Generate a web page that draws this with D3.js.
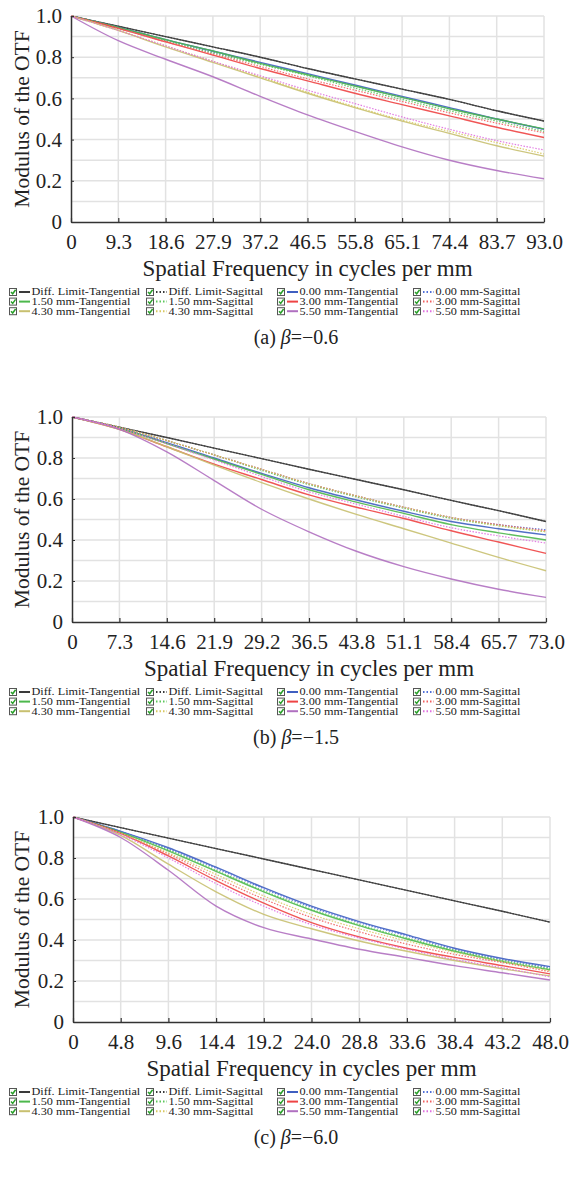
<!DOCTYPE html>
<html><head><meta charset="utf-8">
<script src="https://cdn.jsdelivr.net/npm/d3@7"></script>
<style>
html,body{margin:0;padding:0;background:#fff;}
svg{display:block;font-family:"Liberation Serif","Times New Roman",serif;}
</style></head>
<body><svg id="c" width="569" height="1180"></svg>
<script>
// ---- tick labels ----
const xTicksA = [0, 9.3, 18.6, 27.9, 37.2, 46.5, 55.8, 65.1, 74.4, 83.7, 93.0];
const xTicksB = [0, 7.3, 14.6, 21.9, 29.2, 36.5, 43.8, 51.1, 58.4, 65.7, 73.0];
const xTicksC = [0, 4.8, 9.6, 14.4, 19.2, 24.0, 28.8, 33.6, 38.4, 43.2, 48.0];
const yTicks = [0, 0.2, 0.4, 0.6, 0.8, 1.0];
const captions = ["(a) ", "(b) ", "(c) "];
const betas = ["=\u22120.6", "=\u22121.5", "=\u22126.0"];

// ---- series names ----
const seriesNames = ["Diff. Limit-Tangential","Diff. Limit-Sagittal","0.00 mm-Tangential","0.00 mm-Sagittal",
  "1.50 mm-Tangential","1.50 mm-Sagittal","3.00 mm-Tangential","3.00 mm-Sagittal",
  "4.30 mm-Tangential","4.30 mm-Sagittal","5.50 mm-Tangential","5.50 mm-Sagittal"];

// ---- (a) beta = -0.6, values at each x tick ----
const a_diffT = [1, 0.95, 0.90, 0.85, 0.80, 0.745, 0.695, 0.645, 0.595, 0.54, 0.49];
const a_diffS = [1, 0.95, 0.90, 0.85, 0.80, 0.745, 0.695, 0.645, 0.595, 0.54, 0.49];
const a_00T = [1, 0.945, 0.885, 0.83, 0.775, 0.72, 0.665, 0.61, 0.555, 0.50, 0.45];
const a_00S = [1, 0.945, 0.885, 0.825, 0.77, 0.715, 0.66, 0.605, 0.55, 0.50, 0.45];
const a_15T = [1, 0.945, 0.885, 0.83, 0.77, 0.715, 0.66, 0.605, 0.55, 0.50, 0.452];
const a_15S = [1, 0.94, 0.88, 0.82, 0.765, 0.71, 0.65, 0.595, 0.54, 0.49, 0.44];
const a_30T = [1, 0.94, 0.875, 0.81, 0.745, 0.685, 0.625, 0.57, 0.515, 0.46, 0.41];
const a_30S = [1, 0.94, 0.875, 0.815, 0.755, 0.695, 0.64, 0.585, 0.53, 0.48, 0.433];
const a_43T = [1, 0.93, 0.85, 0.775, 0.70, 0.625, 0.555, 0.49, 0.43, 0.37, 0.32];
const a_43S = [1, 0.93, 0.855, 0.78, 0.705, 0.63, 0.56, 0.495, 0.44, 0.385, 0.33];
const a_55T = [1, 0.88, 0.79, 0.705, 0.61, 0.52, 0.44, 0.365, 0.30, 0.25, 0.21];
const a_55S = [1, 0.93, 0.855, 0.78, 0.71, 0.64, 0.575, 0.51, 0.45, 0.395, 0.35];

// ---- (b) beta = -1.5 ----
const b_diffT = [1, 0.95, 0.90, 0.848, 0.797, 0.745, 0.695, 0.645, 0.593, 0.543, 0.49];
const b_diffS = [1, 0.95, 0.90, 0.848, 0.797, 0.745, 0.695, 0.645, 0.593, 0.543, 0.49];
const b_00T = [1, 0.945, 0.875, 0.80, 0.725, 0.655, 0.595, 0.54, 0.49, 0.455, 0.425];
const b_00S = [1, 0.95, 0.885, 0.815, 0.745, 0.675, 0.615, 0.56, 0.51, 0.475, 0.45];
const b_15T = [1, 0.945, 0.87, 0.795, 0.72, 0.645, 0.585, 0.53, 0.475, 0.435, 0.40];
const b_15S = [1, 0.95, 0.885, 0.815, 0.74, 0.67, 0.61, 0.555, 0.505, 0.47, 0.44];
const b_30T = [1, 0.94, 0.855, 0.77, 0.695, 0.62, 0.56, 0.505, 0.445, 0.39, 0.335];
const b_30S = [1, 0.95, 0.885, 0.815, 0.745, 0.675, 0.615, 0.56, 0.51, 0.475, 0.445];
const b_43T = [1, 0.94, 0.855, 0.765, 0.68, 0.60, 0.525, 0.455, 0.385, 0.315, 0.25];
const b_43S = [1, 0.95, 0.885, 0.815, 0.745, 0.675, 0.615, 0.56, 0.51, 0.47, 0.44];
const b_55T = [1, 0.94, 0.83, 0.69, 0.55, 0.44, 0.345, 0.27, 0.21, 0.16, 0.12];
const b_55S = [1, 0.945, 0.87, 0.79, 0.71, 0.635, 0.575, 0.515, 0.46, 0.42, 0.385];

// ---- (c) beta = -6.0 ----
const c_diffT = [1, 0.948, 0.897, 0.846, 0.795, 0.744, 0.693, 0.642, 0.591, 0.54, 0.487];
const c_diffS = [1, 0.948, 0.897, 0.846, 0.795, 0.744, 0.693, 0.642, 0.591, 0.54, 0.487];
const c_00T = [1, 0.93, 0.85, 0.755, 0.655, 0.565, 0.49, 0.425, 0.36, 0.31, 0.27];
const c_00S = [1, 0.93, 0.845, 0.75, 0.65, 0.56, 0.485, 0.42, 0.355, 0.305, 0.265];
const c_15T = [1, 0.925, 0.835, 0.735, 0.635, 0.545, 0.47, 0.405, 0.345, 0.295, 0.255];
const c_15S = [1, 0.925, 0.84, 0.74, 0.64, 0.55, 0.475, 0.41, 0.35, 0.30, 0.26];
const c_30T = [1, 0.92, 0.81, 0.69, 0.58, 0.485, 0.415, 0.36, 0.315, 0.275, 0.235];
const c_30S = [1, 0.92, 0.82, 0.705, 0.60, 0.51, 0.44, 0.38, 0.33, 0.29, 0.245];
const c_43T = [1, 0.91, 0.77, 0.635, 0.525, 0.455, 0.395, 0.345, 0.30, 0.26, 0.225];
const c_43S = [1, 0.92, 0.825, 0.72, 0.615, 0.525, 0.455, 0.395, 0.34, 0.295, 0.25];
const c_55T = [1, 0.90, 0.74, 0.565, 0.46, 0.405, 0.355, 0.315, 0.275, 0.24, 0.205];
const c_55S = [1, 0.915, 0.80, 0.675, 0.565, 0.475, 0.41, 0.355, 0.305, 0.265, 0.22];

const chartsData = [
  [a_diffT,a_diffS,a_00T,a_00S,a_15T,a_15S,a_30T,a_30S,a_43T,a_43S,a_55T,a_55S],
  [b_diffT,b_diffS,b_00T,b_00S,b_15T,b_15S,b_30T,b_30S,b_43T,b_43S,b_55T,b_55S],
  [c_diffT,c_diffS,c_00T,c_00S,c_15T,c_15S,c_30T,c_30S,c_43T,c_43S,c_55T,c_55S]
];
const xTickSets = [xTicksA, xTicksB, xTicksC];

// ---- styles ----
const FONT = "'Liberation Serif','Times New Roman',serif";
const colors = ["#3a3a3a","#3a3a3a","#3f5fc0","#4f6fd8","#4cb84c","#5cc85c","#ee4444","#f06060","#c8c070","#d8c860","#b070c0","#e070e0"];
const dashed = [false,true,false,true,false,true,false,true,false,true,false,true];

const layout = [
  {top:16, bottom:222, left:71, right:544},
  {top:417, bottom:622, left:72, right:546},
  {top:817, bottom:1022, left:73, right:550}
];
const legendCols = [9, 146, 277, 413];

const svg = d3.select("#c");

layout.forEach((L, ci) => {
  const ticks = xTickSets[ci];
  const x = d3.scaleLinear().domain([0, ticks[ticks.length-1]]).range([L.left, L.right]);
  const y = d3.scaleLinear().domain([0, 1]).range([L.bottom, L.top]);
  const g = svg.append("g").attr("font-family", FONT);

  // grid
  g.append("g").selectAll("line").data(ticks.slice(1)).join("line")
    .attr("x1", d=>x(d)).attr("x2", d=>x(d)).attr("y1", L.top).attr("y2", L.bottom)
    .attr("stroke", "#e2e2e2").attr("stroke-width", 1.5);
  g.append("g").selectAll("line").data(d3.range(1, 11).map(v=>v/10)).join("line")
    .attr("x1", L.left).attr("x2", L.right).attr("y1", d=>y(d)).attr("y2", d=>y(d))
    .attr("stroke", "#e2e2e2").attr("stroke-width", 1.5);

  // lines
  const line = d3.line().x((d,i)=>x(ticks[i])).y(d=>y(d)).curve(d3.curveMonotoneX);
  chartsData[ci].forEach((vals, si) => {
    g.append("path").datum(vals).attr("d", line)
      .attr("fill", "none").attr("stroke", colors[si])
      .attr("stroke-width", dashed[si] ? 1.2 : 1.4)
      .attr("stroke-dasharray", dashed[si] ? "1.5,1.5" : null)
      .attr("opacity", 0.9);
  });

  // x axis
  const xAxis = d3.axisBottom(x).tickValues(ticks).tickSizeInner(-4).tickSizeOuter(0)
    .tickFormat((d,i)=> i===0 ? "0" : d.toFixed(1));
  const gx = g.append("g").attr("transform", `translate(0,${L.bottom})`).call(xAxis)
    .attr("font-family", FONT);
  gx.select(".domain").attr("stroke", "#333").attr("stroke-width", 1.5);
  gx.selectAll(".tick line").attr("stroke", "#333").attr("stroke-width", 1.2);
  gx.selectAll("text").attr("font-size", 21).attr("fill", "#222")
    .attr("dy", "0.35em").attr("y", 20);

  // y axis
  const yAxis = d3.axisLeft(y).tickValues(yTicks).tickSizeInner(-3).tickSizeOuter(0)
    .tickFormat(d => d===0 ? "0" : d.toFixed(1)).tickPadding(9);
  const gy = g.append("g").attr("transform", `translate(${L.left},0)`).call(yAxis)
    .attr("font-family", FONT);
  gy.select(".domain").attr("stroke", "#333").attr("stroke-width", 1.5);
  gy.selectAll(".tick line").attr("stroke", "#333");
  gy.selectAll("text").attr("font-size", 21).attr("fill", "#222");

  // axis titles
  g.append("text").attr("x", (L.left+L.right)/2).attr("y", L.bottom+46).attr("dy", "0.35em")
    .attr("text-anchor", "middle").attr("font-size", 23).attr("fill", "#222")
    .text("Spatial Frequency in cycles per mm");
  g.append("text").attr("transform", `translate(21,${(L.top+L.bottom)/2}) rotate(-90)`)
    .attr("dy", "0.35em").attr("text-anchor", "middle").attr("font-size", 21.5).attr("fill", "#222")
    .text("Modulus of the OTF");

  // legend
  const rowsY = [L.bottom+70, L.bottom+79.6, L.bottom+89.2];
  seriesNames.forEach((name, si) => {
    const col = si % 4, row = Math.floor(si / 4);
    const lx = legendCols[col], ly = rowsY[row];
    const lg = g.append("g");
    lg.append("rect").attr("x", lx+0.5).attr("y", ly-3.5).attr("width", 7).attr("height", 7)
      .attr("fill", "#fff").attr("stroke", "#555").attr("stroke-width", 1);
    lg.append("path").attr("d", `M${lx+2},${ly} L${lx+3.7},${ly+1.8} L${lx+6.6},${ly-2.2}`)
      .attr("fill", "none").attr("stroke", "#2aa02a").attr("stroke-width", 1.5);
    lg.append("line").attr("x1", lx+10).attr("x2", lx+21).attr("y1", ly).attr("y2", ly)
      .attr("stroke", colors[si]).attr("stroke-width", 2)
      .attr("stroke-dasharray", dashed[si] ? "1.5,2" : null);
    lg.append("text").attr("transform", `translate(${lx+22.5},${ly}) scale(1.3,1)`)
      .attr("dy", "0.35em").attr("font-size", 9.4).attr("fill", "#222").text(name);
  });

  // caption
  const cap = g.append("text").attr("x", 296).attr("y", L.bottom+115).attr("dy", "0.35em")
    .attr("text-anchor", "middle").attr("font-size", 20).attr("fill", "#222");
  cap.append("tspan").text(captions[ci]);
  cap.append("tspan").attr("font-style", "italic").text("\u03b2");
  cap.append("tspan").text(betas[ci]);
});
</script>
</body></html>
